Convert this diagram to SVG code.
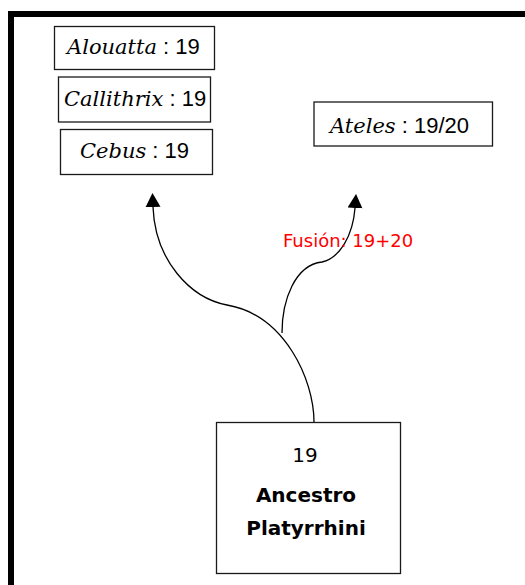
<svg xmlns="http://www.w3.org/2000/svg" width="525" height="585" viewBox="0 0 525 585">
<style>
.box{fill:#fff;stroke:#1a1a1a;stroke-width:1.3}
.sp{font-family:"DejaVu Serif",serif;font-style:italic;font-size:21px;fill:#000}
.num{font-family:"Liberation Sans",sans-serif;font-size:22px;fill:#000}
.anc{font-family:"DejaVu Sans",sans-serif;font-size:20px;fill:#000;text-anchor:middle}
.lbl{font-family:"DejaVu Sans",sans-serif;font-size:18px;fill:#ff0000}
.con{fill:none;stroke:#000;stroke-width:1.3}
</style>
<defs>
<marker id="arr" markerUnits="userSpaceOnUse" markerWidth="16" markerHeight="16" refX="0" refY="7.5" orient="auto" viewBox="0 0 16 16">
<path d="M0,0 L14,7.5 L0,15 z" fill="#000"/>
</marker>
</defs>
<rect width="525" height="585" fill="#fff"/>
<path d="M11,585 V14 H525" fill="none" stroke="#000" stroke-width="6"/>
<g id="connectors">
<path class="con" d="M314,422 C314,380 285,315 227,305 C190,298 155,260 153,207" marker-end="url(#arr)"/>
<path class="con" d="M282,333 C282,300 295,265 322,262 C340,258 353,235 355,208" marker-end="url(#arr)"/>
<text class="lbl" x="283" y="247">Fusión: 19+20</text>
</g>
<g id="alouatta">
<rect class="box" x="54.5" y="26.5" width="160" height="43"/>
<text x="67" y="54"><tspan class="sp">Alouatta</tspan><tspan class="num"> : 19</tspan></text>
</g>
<g id="callithrix">
<rect class="box" x="58.5" y="77" width="152" height="45"/>
<text x="64" y="106"><tspan class="sp">Callithrix</tspan><tspan class="num"> : 19</tspan></text>
</g>
<g id="cebus">
<rect class="box" x="60.5" y="129.5" width="152" height="45"/>
<text x="80" y="158"><tspan class="sp">Cebus</tspan><tspan class="num"> : 19</tspan></text>
</g>
<g id="ateles">
<rect class="box" x="314" y="102" width="178.5" height="44"/>
<text x="330" y="133"><tspan class="sp">Ateles</tspan><tspan class="num" font-size="24"> : 19/20</tspan></text>
</g>
<g id="ancestro">
<rect class="box" x="216.5" y="422.5" width="184" height="151"/>
<text class="anc" x="305" y="462" font-size="22">19</text>
<text class="anc" x="306" y="502" font-weight="bold">Ancestro</text>
<text class="anc" x="306" y="535" font-weight="bold">Platyrrhini</text>
</g>
</svg>
